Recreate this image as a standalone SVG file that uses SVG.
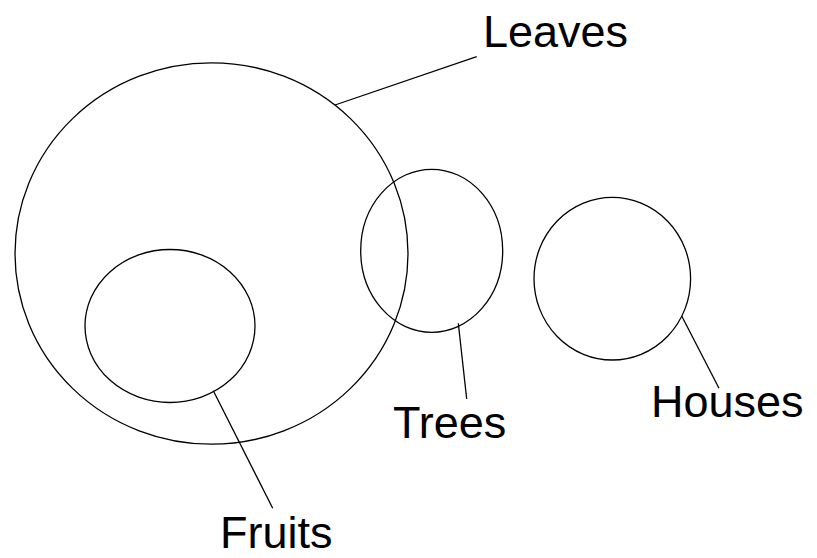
<svg xmlns="http://www.w3.org/2000/svg" width="817" height="558" viewBox="0 0 817 558">
<style>
.s{fill:none;stroke:#000;stroke-width:1.3}
.t{font-family:"Liberation Sans",Arial,sans-serif;font-size:45px;fill:#000}
</style>
<rect width="817" height="558" fill="#fff"/>
<g id="leaves"><ellipse class="s" cx="211.5" cy="253.5" rx="196.5" ry="190.7"/><text class="t" x="483" y="47">Leaves</text></g>
<g id="fruits"><ellipse class="s" cx="170" cy="326" rx="85" ry="76.5"/><text class="t" x="220" y="548">Fruits</text></g>
<g id="trees"><ellipse class="s" cx="431.7" cy="250.8" rx="71" ry="81.5"/><text class="t" x="393" y="438">Trees</text></g>
<g id="houses"><ellipse class="s" cx="612.3" cy="278.7" rx="78.3" ry="81.3"/><text class="t" x="651" y="417">Houses</text></g>
<g id="connectors">
<line class="s" x1="335" y1="105" x2="476.7" y2="56.7"/>
<line class="s" x1="213.3" y1="390.7" x2="272.7" y2="508.3"/>
<line class="s" x1="458.3" y1="323.3" x2="466.7" y2="399"/>
<line class="s" x1="681.7" y1="316" x2="719" y2="388.3"/>
</g>
</svg>
